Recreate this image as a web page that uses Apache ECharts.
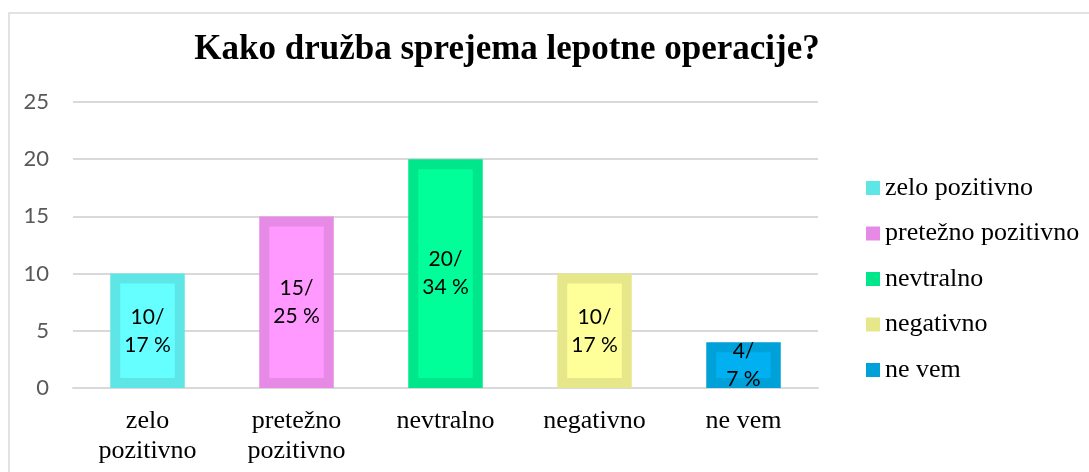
<!DOCTYPE html>
<html>
<head>
<meta charset="utf-8">
<script src="https://cdn.jsdelivr.net/npm/echarts@6/dist/echarts.min.js"></script>
<style>
html, body { margin: 0; padding: 0; background: #fff; }
#chart { width: 1089px; height: 472px; }
</style>
</head>
<body>
<div id="chart"></div>
<script>
// podatki
var categories = ['zelo pozitivno', 'pretežno pozitivno', 'nevtralno', 'negativno', 'ne vem'];
var axisLabels = ['zelo\npozitivno', 'pretežno\npozitivno', 'nevtralno', 'negativno', 'ne vem'];
var counts = [10, 15, 20, 10, 4];
var percents = [17, 25, 34, 17, 7];
var fillColors = ['#66ffff', '#ff99ff', '#00ff99', '#ffff99', '#00b0f0'];
var borderColors = ['#5ee6e6', '#e68ae6', '#00e68a', '#e6e68a', '#00a0d8'];

var titleText = 'Kako družba sprejema lepotne operacije?';

function buildSeries() {
    var list = [];
    for (var i = 0; i < categories.length; i++) {
        var data = [];
        for (var j = 0; j < categories.length; j++) {
            data.push(j == i ? counts[i] : '-');
        }
        list.push({
            name: categories[i],
            type: 'bar',
            stack: 'all',
            barCategoryGap: '50%',
            data: data,
            itemStyle: {
                color: fillColors[i],
                borderColor: borderColors[i],
                borderWidth: 10
            },
            label: {
                show: true,
                position: 'inside',
                color: '#000',
                fontFamily: 'Lato',
                fontSize: 21,
                lineHeight: 28,
                formatter: (function (k) {
                    return function () { return counts[k] + '/\n' + percents[k] + ' %'; };
                })(i)
            },
            emphasis: { disabled: true }
        });
    }
    return list;
}

var legendData = [];
for (var n = 0; n < categories.length; n++) {
    legendData.push({ name: categories[n], itemStyle: { color: borderColors[n], borderWidth: 0 } });
}

var chart = echarts.init(document.getElementById('chart'));
chart.setOption({
    animation: false,
    backgroundColor: '#fff',
    graphic: [{
        type: 'rect',
        shape: { x: 9, y: 13, width: 1200, height: 600 },
        style: { fill: 'none', stroke: '#d9d9d9', lineWidth: 1.5 },
        silent: true
    }, {
        type: 'text',
        x: 507,
        y: 50,
        style: {
            text: titleText,
            fill: '#000',
            font: 'bold 35px "Liberation Serif"',
            textAlign: 'center',
            textVerticalAlign: 'middle'
        },
        silent: true
    }],
    grid: { left: 73, right: 271, top: 102, bottom: 84 },
    legend: {
        orient: 'vertical',
        left: 861,
        top: 170,
        itemWidth: 14,
        itemHeight: 14,
        itemGap: 19.5,
        icon: 'rect',
        data: legendData,
        textStyle: {
            fontFamily: 'Liberation Serif',
            fontSize: 26,
            lineHeight: 26,
            color: '#000'
        }
    },
    xAxis: {
        type: 'category',
        data: categories,
        axisLine: { lineStyle: { color: '#d9d9d9', width: 2 } },
        axisTick: { show: false },
        axisLabel: {
            margin: 18,
            fontFamily: 'Liberation Serif',
            fontSize: 26,
            lineHeight: 30,
            color: '#000',
            interval: 0,
            formatter: function (v, idx) { return axisLabels[idx]; }
        }
    },
    yAxis: {
        type: 'value',
        min: 0,
        max: 25,
        interval: 5,
        axisLine: { show: false },
        axisTick: { show: false },
        splitLine: { lineStyle: { color: '#d9d9d9', width: 2 } },
        axisLabel: {
            margin: 24,
            fontFamily: 'Lato',
            fontSize: 22,
            color: '#595959'
        }
    },
    series: buildSeries()
});
</script>
</body>
</html>
